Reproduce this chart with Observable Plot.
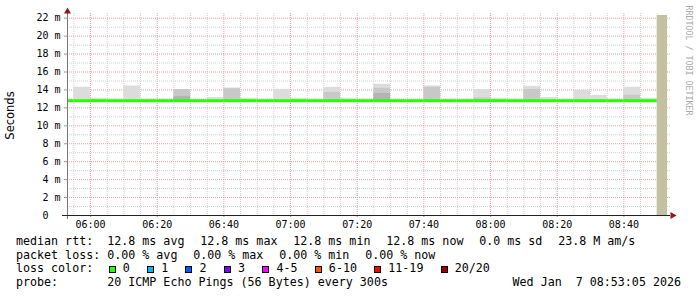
<!DOCTYPE html>
<html><head><meta charset="utf-8">
<script src="https://cdn.jsdelivr.net/npm/d3@7"></script>
<script src="https://cdn.jsdelivr.net/npm/@observablehq/plot@0.6"></script>
<style>
html,body{margin:0;padding:0;background:#fff;}
#chart svg{display:block;}
.legend{font-family:"DejaVu Sans Mono",monospace;font-size:11.66px;color:#000;}
.line{display:flex;align-items:center;height:13.67px;line-height:13.67px;white-space:pre;padding-left:16px;padding-right:16px;}
.lab{width:13ch;flex:none}
.item{margin-right:15.8px}
.box{display:inline-block;width:7px;height:7px;border:1px solid #000;box-sizing:border-box;margin-left:1.4px;margin-right:7.2px;flex:none}
.sp{flex:1}
</style></head>
<body>
<div id="chart"></div>
<div class="legend" id="legend"></div>
<script>
// ---- data ----
const DAY = "2026-01-07";
const rangeStart = "05:53:05";
const rangeEnd = "08:53:05";
const yMax = 22.3;
const tickLabels = ["06:00","06:20","06:40","07:00","07:20","07:40","08:00","08:20","08:40"];
const yTicks = [0,2,4,6,8,10,12,14,16,18,20,22];

// smoke (5-minute steps)
const smokeSteps = ["05:55","06:00","06:10","06:25","06:35","06:40","06:45","06:55","07:00","07:10","07:15","07:25","07:40","07:55","08:00","08:10","08:15","08:25","08:30","08:40","08:45"];
const smokeLow   = [12.7,12.7,12.7,12.7,12.7,12.7,12.7,12.7,12.7,12.7,12.7,12.7,12.7,12.7,12.7,12.7,12.7,12.7,12.7,12.7,12.7];
const smokeHigh  = [14.3,13.07,14.44,14.05,13.15,14.22,13.07,14.07,13.07,14.29,13.07,14.63,14.44,14.05,13.07,14.4,13.15,13.96,13.38,14.3,13.05];
const smokeMid   = [null,null,null,14.05,null,14.14,null,null,null,13.73,null,14.18,14.29,13.1,null,14.05,null,null,null,13.4,null];
const smokeDark  = [null,null,null,13.27,null,null,null,null,null,null,null,13.6,null,null,null,null,null,null,null,null,null];

// median rtt per step and packet loss per step
const medianSteps = ["05:50","05:55","06:00","06:05","06:10","06:15","06:20","06:25","06:30","06:35","06:40","06:45","06:50","06:55","07:00","07:05","07:10","07:15","07:20","07:25","07:30","07:35","07:40","07:45","07:50","07:55","08:00","08:05","08:10","08:15","08:20","08:25","08:30","08:35","08:40","08:45"];
const medianRtt = [12.8,12.8,12.8,12.8,12.8,12.8,12.8,12.8,12.8,12.8,12.8,12.8,12.8,12.8,12.8,12.8,12.8,12.8,12.8,12.8,12.8,12.8,12.8,12.8,12.8,12.8,12.8,12.8,12.8,12.8,12.8,12.8,12.8,12.8,12.8,12.8];
const lossCount = [0,0,0,0,0,0,0,0,0,0,0,0,0,0,0,0,0,0,0,0,0,0,0,0,0,0,0,0,0,0,0,0,0,0,0,0];
const unknownSteps = ["08:50"];

// legend texts
const rttItems = ["12.8 ms avg","12.8 ms max","12.8 ms min","12.8 ms now","0.0 ms sd","23.8 M am/s"];
const lossItems = ["0.00 % avg","0.00 % max","0.00 % min","0.00 % now"];
const lossLabels = ["0","1","2","3","4-5","6-10","11-19","20/20"];
const lossColors = ["#26ff00","#00b8ff","#0059ff","#7e00ff","#ff00ff","#ff5500","#ff0000","#a10000"];
const probeText = "20 ICMP Echo Pings (56 Bytes) every 300s";
const stampText = "Wed Jan  7 08:53:05 2026";

// ---- build ----
const T = s => new Date(`${DAY}T${s.length === 5 ? s + ":00" : s}Z`);
const STEP = 300e3;
const X0 = T(rangeStart), X1 = T(rangeEnd);
const lossBin = n => n === 0 ? 0 : n === 1 ? 1 : n === 2 ? 2 : n === 3 ? 3 : n <= 5 ? 4 : n <= 10 ? 5 : n <= 19 ? 6 : 7;

const smoke = smokeSteps.map((s, i) => ({t: T(s), lo: smokeLow[i], hi: smokeHigh[i], mid: smokeMid[i], dark: smokeDark[i]}));
const med = medianSteps.map((s, i) => ({t: T(s), v: medianRtt[i], c: lossColors[lossBin(lossCount[i])]}));
const unk = unknownSteps.map(s => ({t: T(s)}));

const minor5 = d3.utcMinute.every(5).range(X0, X1).filter(d => d.getUTCMinutes() % 20 !== 0);
const major20 = d3.utcMinute.every(20).range(X0, X1);
const yMinor = d3.range(1, 23).filter(v => v % 2 !== 0);
const yMajor = d3.range(2, 23, 2);

const chart = Plot.plot({
  width: 697, height: 235,
  marginLeft: 67, marginRight: 30, marginTop: 15, marginBottom: 20,
  style: {fontFamily: "DejaVu Sans Mono", fontSize: "10px", background: "#fff", color: "#000", overflow: "visible"},
  x: {type: "utc", domain: [X0, X1]},
  y: {domain: [0, yMax]},
  marks: [
    Plot.ruleX(minor5, {stroke: "#cfcfcf", strokeDasharray: "1,1", insetTop: -2}),
    Plot.ruleY(yMinor, {stroke: "#cfcfcf", strokeDasharray: "1,1", insetRight: -3}),
    Plot.ruleX(major20, {stroke: "#e0a0a0", strokeDasharray: "1,1", insetTop: -2}),
    Plot.ruleY(yMajor, {stroke: "#e0a0a0", strokeDasharray: "1,1", insetRight: -3}),
    Plot.rect(smoke, {x1: "t", x2: d => new Date(+d.t + STEP), y1: "lo", y2: "hi", fill: "#dcdcdc", clip: true}),
    Plot.rect(smoke.filter(d => d.mid != null), {x1: "t", x2: d => new Date(+d.t + STEP), y1: "lo", y2: "mid", fill: "#c8c8c8", clip: true}),
    Plot.rect(smoke.filter(d => d.dark != null), {x1: "t", x2: d => new Date(+d.t + STEP), y1: "lo", y2: "dark", fill: "#b4b4b4", clip: true}),
    Plot.rect(unk, {x1: "t", x2: d => new Date(+d.t + STEP), y1: 0, y2: yMax, fill: "#c2c2a2", clip: true}),
    Plot.ruleY(med, {x1: "t", x2: d => new Date(+d.t + STEP), y: "v", stroke: "c", strokeWidth: 3, strokeLinecap: "butt", clip: true}),
    Plot.axisY({ticks: yTicks, tickFormat: d => d === 0 ? "0\u00a0\u00a0" : d + " m", tickSize: 3, tickPadding: 4, stroke: "#999", label: null}),
    Plot.axisX({ticks: tickLabels.map(T), tickFormat: d3.utcFormat("%H:%M"), tickSize: 2, tickPadding: 3, stroke: "#999", label: null}),
    Plot.ruleX([X0], {stroke: "#777", insetTop: -5, insetBottom: -4}),
    Plot.ruleY([0], {stroke: "#222", insetLeft: -5, insetRight: -3}),
    Plot.dot([{x: X0, y: yMax}], {x: "x", y: "y", symbol: "triangle", r: 2.6, fill: "#8b1a1a", stroke: null, dy: -4}),
    Plot.dot([{x: X1, y: 0}], {x: "x", y: "y", symbol: "triangle", r: 2.6, fill: "#8b1a1a", stroke: null, rotate: 90, dx: 5}),
    Plot.text(["Seconds"], {text: d => d, frameAnchor: "left", dx: -57, rotate: -90, fontFamily: "DejaVu Sans", fontSize: 11.5, textAnchor: "middle", lineAnchor: "middle", fill: "#000"}),
    Plot.text(["RRDTOOL / TOBI OETIKER"], {text: d => d, frameAnchor: "top-right", dx: 21, dy: -10, rotate: 90, textAnchor: "start", lineAnchor: "middle", fill: "#aaa", fontSize: 8.3})
  ]
});
document.getElementById("chart").append(chart);

// legend
const lg = document.getElementById("legend");
function line() { const d = document.createElement("div"); d.className = "line"; lg.append(d); return d; }
function span(parent, cls, txt) { const s = document.createElement("span"); if (cls) s.className = cls; if (txt != null) s.textContent = txt; parent.append(s); return s; }
let l1 = line(); span(l1, "lab", "median rtt:"); rttItems.forEach(t => span(l1, "item", t));
let l2 = line(); span(l2, "lab", "packet loss:"); lossItems.forEach(t => span(l2, "item", t));
let l3 = line(); span(l3, "lab", "loss color:");
lossLabels.forEach((t, i) => { const b = span(l3, "box"); b.style.background = lossColors[i]; span(l3, "item", t); });
let l4 = line(); span(l4, "lab", "probe:"); span(l4, null, probeText); span(l4, "sp"); span(l4, null, stampText);
</script>
</body></html>
